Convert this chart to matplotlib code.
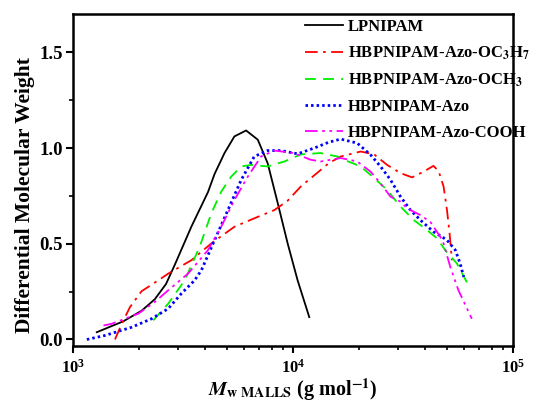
import matplotlib
matplotlib.use('Agg')
import matplotlib.pyplot as plt
from matplotlib.ticker import MultipleLocator, LogLocator, NullFormatter

plt.rcParams['font.family'] = 'Liberation Serif'
plt.rcParams['font.weight'] = 'bold'
plt.rcParams['mathtext.fontset'] = 'stix'

# LPNIPAM
x_lp = [1284, 1695, 2051, 2355, 2650, 2904, 3453, 4110, 4405, 4886, 5420, 6125, 6920, 7675, 8530,
        9460, 10500, 11860]
y_lp = [0.038, 0.095, 0.15, 0.21, 0.29, 0.39, 0.589, 0.77, 0.865, 0.974, 1.061, 1.092, 1.044, 0.921,
        0.712, 0.502, 0.309, 0.117]

# HBPNIPAM-Azo-OC3H7
x_oc3 = [1553, 1667, 1817, 2051, 2444, 2711, 3453, 4256, 5420, 6670, 8230, 9460, 10870, 12940, 14500,
         16480, 20300, 23330, 26800, 30830, 34780, 39250, 43500, 45920, 48370, 50120, 51500, 52780]
y_oc3 = [0.0, 0.082, 0.169, 0.252, 0.309, 0.344, 0.414, 0.502, 0.589, 0.633, 0.676, 0.725, 0.80, 0.872,
         0.92, 0.956, 0.982, 0.968, 0.912, 0.869, 0.847, 0.877, 0.907, 0.88, 0.799, 0.676, 0.554, 0.414]

# HBPNIPAM-Azo-OCH3
x_och = [2318, 2711, 3222, 3767, 4256, 4720, 5240, 5820, 6450, 7675, 9140, 10870, 13390, 15920, 17080,
         20300, 23330, 26800, 30830, 35400, 40660, 45180, 49180, 55590, 62800]
y_och = [0.10, 0.187, 0.309, 0.484, 0.659, 0.772, 0.851, 0.904, 0.912, 0.904, 0.930, 0.967, 0.974, 0.956,
         0.939, 0.904, 0.845, 0.781, 0.694, 0.624, 0.572, 0.528, 0.467, 0.397, 0.283]

# HBPNIPAM-Azo
x_azo = [1157, 1400, 1849, 2275, 2711, 3112, 3573, 3837, 4405, 5062, 5820, 6670, 7675, 8830, 10500,
         12480, 14500, 16480, 19600, 22520, 25000, 27760, 30830, 34200, 37930, 43500, 47000, 50120,
         54690, 57500, 59700]
y_azo = [0.0, 0.021, 0.064, 0.108, 0.161, 0.24, 0.309, 0.362, 0.519, 0.676, 0.834, 0.956, 0.987, 0.987,
         0.970, 1.0, 1.03, 1.047, 1.026, 0.965, 0.904, 0.834, 0.746, 0.676, 0.624, 0.563, 0.54, 0.519,
         0.467, 0.397, 0.327]

# HBPNIPAM-Azo-COOH
x_cooh = [1377, 1501, 1983, 2355, 2711, 3335, 4110, 4720, 5420, 6235, 7165, 8230, 10100, 12040, 13390,
          16480, 19600, 22520, 25000, 27760, 30830, 33020, 37930, 42070, 46740, 48370, 51880, 56500,
          65000]
y_cooh = [0.073, 0.082, 0.135, 0.196, 0.257, 0.344, 0.467, 0.589, 0.729, 0.851, 0.956, 0.987, 0.974,
          0.939, 0.930, 0.948, 0.930, 0.877, 0.816, 0.746, 0.720, 0.685, 0.650, 0.615, 0.536, 0.502,
          0.379, 0.257, 0.108]

fig = plt.figure(figsize=(5.4, 4.03), dpi=100)
ax = fig.add_axes([0.135, 0.141, 0.815, 0.824])

ax.plot(x_lp, y_lp, color='black', lw=1.3, label='LPNIPAM')
ax.plot(x_oc3, y_oc3, color='#ff0000', lw=1.3, dashes=(7, 3, 1.5, 3),
        label=r'HBPNIPAM-Azo-OC$_\mathbf{3}$H$_\mathbf{7}$')
ax.plot(x_och, y_och, color='#00ee00', lw=1.3, dashes=(6, 4),
        label=r'HBPNIPAM-Azo-OCH$_\mathbf{3}$')
ax.plot(x_azo, y_azo, color='#0000ff', lw=2.0, dashes=(0.9, 1.1), label='HBPNIPAM-Azo')
ax.plot(x_cooh, y_cooh, color='#ff00ff', lw=1.3, dashes=(7, 2.5, 1.5, 2.5, 1.5, 2.5),
        label='HBPNIPAM-Azo-COOH')

ax.set_xscale('log')
ax.set_xlim(1000, 100000)
ax.set_ylim(-0.035, 1.70)
ax.yaxis.set_major_locator(MultipleLocator(0.5))
ax.yaxis.set_minor_locator(MultipleLocator(0.25))
ax.xaxis.set_minor_locator(LogLocator(base=10, subs=range(2, 10)))
ax.xaxis.set_minor_formatter(NullFormatter())

for sp in ax.spines.values():
    sp.set_linewidth(1.8)
ax.tick_params(which='major', direction='out', length=5, width=1.5)
ax.tick_params(which='minor', direction='out', length=3, width=1.2)
ax.tick_params(axis='y', labelsize=13.5, pad=2)
ax.tick_params(axis='x', labelsize=12, pad=4)
for lab in ax.get_xticklabels() + ax.get_yticklabels():
    lab.set_fontweight('bold')

ax.set_ylabel('Differential Molecular Weight', fontsize=15.5, fontweight='bold')
ax.yaxis.set_label_coords(-0.085, 0.455)
ax.set_xlabel(r'$\boldsymbol{M}_{\mathbf{w\ MALLS}}$ (g mol$^{\mathbf{-1}}$)', fontsize=14.5,
              fontweight='bold', labelpad=0)

leg = ax.legend(loc='upper left', bbox_to_anchor=(0.512, 1.005), frameon=False, fontsize=12,
                handlelength=2.3, handletextpad=0.3, labelspacing=0.58, borderaxespad=0)

fig.savefig('out.png', dpi=100, facecolor='white')
